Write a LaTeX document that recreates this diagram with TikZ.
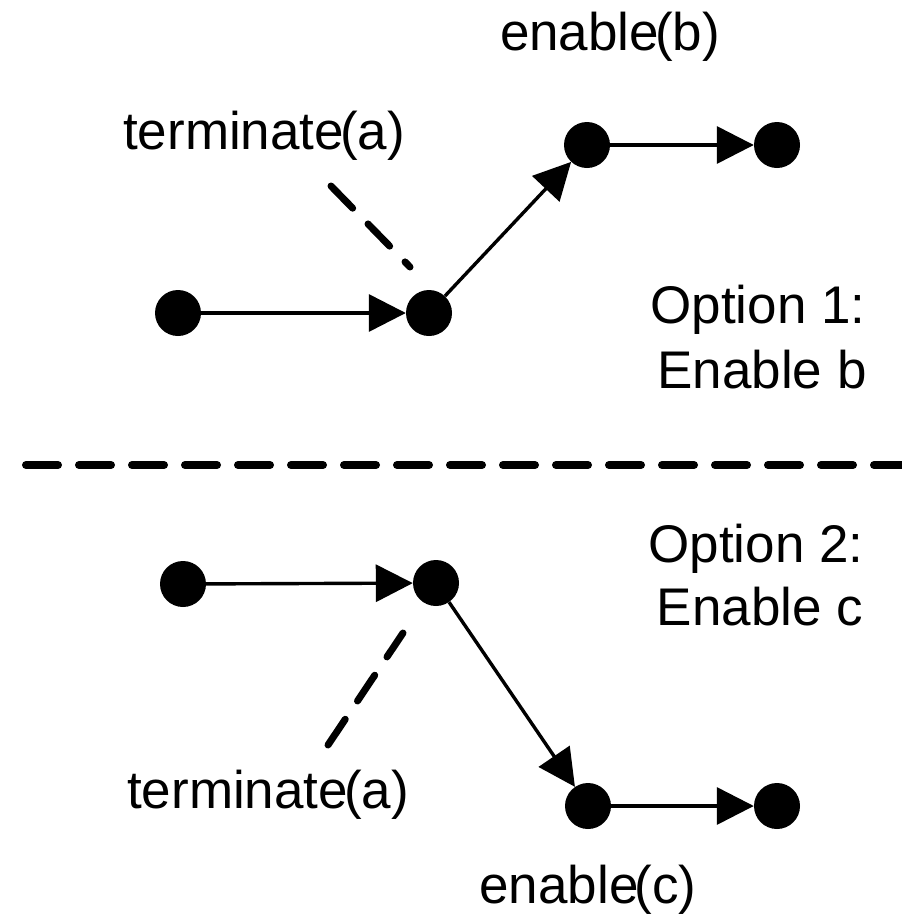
\documentclass[tikz,border=0pt]{standalone}
\usepackage{fontspec}
\setmainfont{Liberation Sans}
\usetikzlibrary{arrows.meta}
\begin{document}
\begin{tikzpicture}[x=1pt,y=-1pt,
  dot/.style={circle,fill=black,inner sep=0pt,minimum size=46pt},
  arr/.style={line width=3.4pt,-{Triangle[length=37pt,width=37pt]}},
  dsh/.style={line width=7pt,line cap=round,dash pattern=on 31pt off 22pt},
  lbl/.style={font=\fontsize{53}{60}\selectfont,inner sep=0pt,anchor=base}]
\useasboundingbox (0,0) rectangle (902,921);
% top option
\node[dot] (a1) at (178,313) {};
\node[dot] (b1) at (429,313) {};
\node[dot] (c1) at (587,145) {};
\node[dot] (d1) at (777,145) {};
\draw[arr] (a1) -- (b1);
\draw[arr] (b1) -- (c1);
\draw[arr] (c1) -- (d1);
\node[lbl] (eb) at (610,50) {enable\kern-4pt(b)};
\node[lbl] (ta1) at (264,149) {terminate\kern-4pt(a)};
\coordinate (t1s) at (331,186);
\coordinate (t1e) at (410,267);
\draw[dsh] (t1s) -- (t1e);
\node[lbl] (o1a) at (758,323) {Option 1:};
\node[lbl] (o1b) at (762,388) {Enable b};
% divider
\coordinate (dv1) at (26,465);
\coordinate (dv2) at (910,465);
\draw[line width=8pt,line cap=round,dash pattern=on 32pt off 21pt] (dv1) -- (dv2);
% bottom option
\node[dot] (a2) at (183,584) {};
\node[dot] (b2) at (436,583) {};
\node[dot] (c2) at (588,806) {};
\node[dot] (d2) at (777,806) {};
\draw[arr] (a2) -- (b2);
\draw[arr] (b2) -- (c2);
\draw[arr] (c2) -- (d2);
\coordinate (t2s) at (328,745);
\coordinate (t2e) at (403,633);
\draw[dsh] (t2s) -- (t2e);
\node[lbl] (ta2) at (268,808) {terminate\kern-4pt(a)};
\node[lbl] (ec) at (588,903) {enable\kern-4pt(c)};
\node[lbl] (o2a) at (756,562) {Option 2:};
\node[lbl] (o2b) at (760,625) {Enable c};
\end{tikzpicture}
\end{document}
